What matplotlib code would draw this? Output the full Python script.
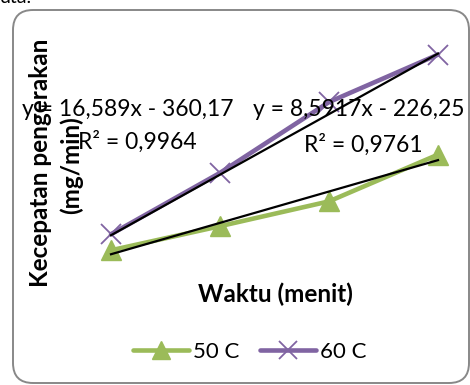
import matplotlib
matplotlib.use("Agg")
import matplotlib.pyplot as plt
import numpy as np
from matplotlib.patches import FancyBboxPatch
from matplotlib.transforms import IdentityTransform

plt.rcParams['font.family'] = ['Lato', 'DejaVu Sans']

# ---- data ----
waktu = [20, 25, 30, 35]
s50 = [-49, -16, 18, 82]
s60 = [-27, 57, 154, 219]
series_names = ['50 C', '60 C']
trend_slope = [8.5917, 16.589]
trend_icept = [-226.25, -360.17]
eq_labels = ['y = 8,5917x - 226,25', 'y = 16,589x - 360,17']
r2_labels = ['R² = 0,9761', 'R² = 0,9964']
xlabel = 'Waktu (menit)'
ylabel1 = 'Kecepatan pengerakan'
ylabel2 = '(mg/min)'

W, H = 470, 385
fig = plt.figure(figsize=(W / 100, H / 100), dpi=100)

def fx(px):
    return px / W

def fy(py):
    return 1 - py / H

# plot area (pixels)
L, R, T, B = 50, 460, 30, 270
ax = fig.add_axes([fx(L), fy(B), (R - L) / W, (B - T) / H])
ax.set_xlim(17.202, 36.009)
ax.set_ylim(-76.0, 252.7)
ax.axis('off')

green = '#9BBB59'
purple = '#8064A2'

ax.plot(waktu, s50, color=green, lw=3.3, marker='^', ms=14, mec=green, mfc=green,
        label=series_names[0], zorder=3, solid_capstyle='round')
ax.plot(waktu, s60, color=purple, lw=3.3, marker='x', ms=14, mew=1.3, mec=purple,
        label=series_names[1], zorder=3, solid_capstyle='round')

xt = np.array([waktu[0], waktu[-1]], dtype=float)
for m, c in zip(trend_slope, trend_icept):
    ax.plot(xt, m * xt + c, color='black', lw=1.6, zorder=4)

# equation labels
fs = 16.5
fsb = 17.5
fig.text(fx(22), fy(116), eq_labels[1], fontsize=fs, va='baseline', ha='left', zorder=6)
fig.text(fx(253), fy(116), eq_labels[0], fontsize=fs, va='baseline', ha='left', zorder=6)
fig.text(fx(78), fy(149), r2_labels[1], fontsize=fs, va='baseline', ha='left', zorder=6)
fig.text(fx(304), fy(152), r2_labels[0], fontsize=fs, va='baseline', ha='left', zorder=6)

# axis titles
fig.text(fx(41), fy(163), ylabel1, fontsize=fsb, fontweight='bold', rotation=90,
         ha='center', va='center', zorder=5)
fig.text(fx(71), fy(165), ylabel2, fontsize=fsb, fontweight='bold', rotation=90,
         ha='center', va='center', zorder=5)
fig.text(fx(275), fy(294), xlabel, fontsize=fsb, fontweight='bold', ha='center', va='center')

# legend
fig.legend(loc='center', bbox_to_anchor=(fx(250), fy(352)), ncol=2, frameon=False,
           fontsize=16, handlelength=2.5, handletextpad=0.2, columnspacing=0.95,
           borderpad=0, markerscale=0.9)

# chart border (rounded)
box = FancyBboxPatch((13, H - 383), 469 - 13, 383 - 10,
                     boxstyle='round,pad=0,rounding_size=20',
                     transform=IdentityTransform(), fill=False,
                     edgecolor='#888888', lw=1.4)
fig.add_artist(box)

# clipped text fragment at top-left (from the surrounding page)
fig.text(fx(0), fy(3), 'uta.', fontsize=14, va='baseline', ha='left')

fig.savefig('out.png', dpi=100)
